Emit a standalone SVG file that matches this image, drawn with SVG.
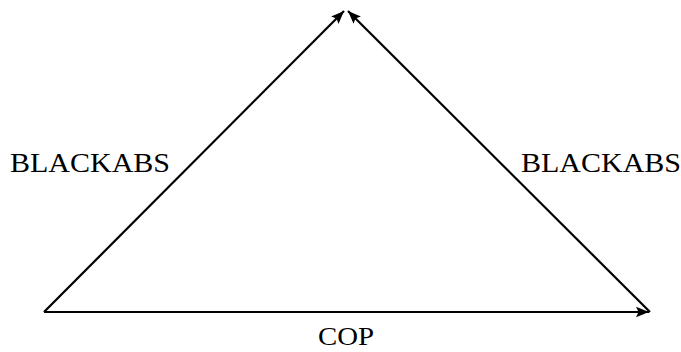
<svg xmlns="http://www.w3.org/2000/svg" width="681" height="352" viewBox="0 0 681 352">
<style>
.edge{stroke:#000;stroke-width:2.2;fill:none}
.lbl{font-family:"Liberation Serif","DejaVu Serif",serif;font-size:28px;fill:#000}
.sm{font-size:26px}
</style>
<defs>
<marker id="ah" markerUnits="userSpaceOnUse" markerWidth="16" markerHeight="12" refX="13" refY="6" orient="auto" viewBox="0 0 16 12">
<path d="M0,0.8 L13,6 L0,11.2 L2.5,6 Z" fill="#000"/>
</marker>
</defs>
<rect width="681" height="352" fill="#fff"/>
<g id="connectors">
<line class="edge" x1="44" y1="312" x2="344" y2="11" marker-end="url(#ah)"/>
<line class="edge" x1="650" y1="312" x2="348" y2="11" marker-end="url(#ah)"/>
<line class="edge" x1="44" y1="312" x2="649" y2="312" marker-end="url(#ah)"/>
</g>
<g id="label-left"><text class="lbl" x="10" y="172" textLength="160" lengthAdjust="spacingAndGlyphs">BLACKABS</text></g>
<g id="label-right"><text class="lbl" x="521" y="172" textLength="160" lengthAdjust="spacingAndGlyphs">BLACKABS</text></g>
<g id="label-bottom"><text class="lbl sm" x="318" y="345" textLength="56" lengthAdjust="spacingAndGlyphs">COP</text></g>
</svg>
